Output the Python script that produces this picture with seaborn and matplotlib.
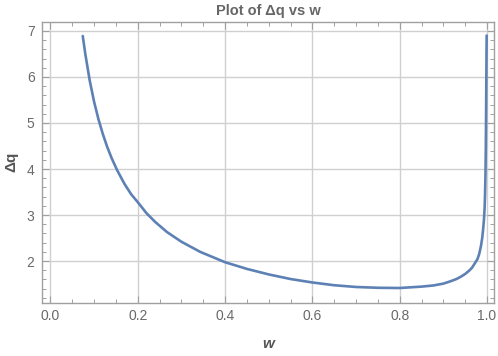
import numpy as np
import pandas as pd
import seaborn as sns
import matplotlib
matplotlib.use("Agg")
import matplotlib.pyplot as plt
from matplotlib.ticker import MultipleLocator

# Values
w_vals = [0.074, 0.080, 0.090, 0.100, 0.110, 0.120, 0.130, 0.140, 0.153, 0.170,
          0.185, 0.200, 0.220, 0.240, 0.267, 0.300, 0.343, 0.400, 0.450, 0.500,
          0.550, 0.600, 0.650, 0.700, 0.750, 0.800, 0.850, 0.877, 0.900, 0.916,
          0.930, 0.940, 0.950, 0.960, 0.966, 0.972, 0.978, 0.982, 0.986, 0.989,
          0.991, 0.993, 0.9945, 0.9955, 0.9965, 0.9973, 0.9979, 0.9984, 0.9988, 0.9992]
dq_vals = [6.89, 6.49, 5.92, 5.46, 5.08, 4.76, 4.48, 4.24, 3.97, 3.67,
           3.45, 3.28, 3.04, 2.85, 2.63, 2.42, 2.20, 1.975, 1.83, 1.71,
           1.61, 1.535, 1.475, 1.437, 1.42, 1.415, 1.445, 1.47, 1.51, 1.56,
           1.61, 1.66, 1.72, 1.80, 1.86, 1.95, 2.04, 2.15, 2.32, 2.50,
           2.68, 2.90, 3.15, 3.45, 3.90, 4.50, 5.20, 5.90, 6.45, 6.90]

title = "Plot of Δq vs w"
xlabel = "w"
ylabel = "Δq"

sns.set_theme(style="white")
plt.rcParams['font.family'] = ['Liberation Sans', 'DejaVu Sans']

df = pd.DataFrame({"w": w_vals, "dq": dq_vals})

fig = plt.figure(figsize=(4.98, 3.56), dpi=100)
ax = fig.add_axes([41.5/498, 1-302.5/356, (494.3-41.5)/498, (302.5-21.5)/356])

sns.lineplot(data=df, x="w", y="dq", ax=ax, color="#5E81B5", linewidth=1.9,
             sort=False, estimator=None)

ax.set_xlim(-0.0205, 1.0167)
ax.set_ylim(1.10, 7.205)

ax.xaxis.set_major_locator(MultipleLocator(0.2))
ax.xaxis.set_minor_locator(MultipleLocator(0.05))
ax.yaxis.set_major_locator(MultipleLocator(1))
ax.yaxis.set_minor_locator(MultipleLocator(0.2))
ax.set_xticks([0.0, 0.2, 0.4, 0.6, 0.8, 1.0])
ax.set_xticklabels(["0.0", "0.2", "0.4", "0.6", "0.8", "1.0"])
ax.set_yticks([2, 3, 4, 5, 6, 7])
ax.set_yticklabels(["2", "3", "4", "5", "6", "7"])

ax.grid(True, which="major", color="#d0d0d0", linewidth=1.0)
ax.set_axisbelow(True)

for side in ["left", "bottom", "top", "right"]:
    ax.spines[side].set_visible(True)
    ax.spines[side].set_color("#a0a0a0")
    ax.spines[side].set_linewidth(1.0)

ax.tick_params(which="major", direction="in", length=5, width=0.8, color="#a0a0a0",
               top=True, right=True, bottom=True, left=True,
               labelsize=10, labelcolor="#6a6a6a")
ax.tick_params(axis="x", which="major", pad=5)
ax.tick_params(axis="y", which="major", pad=5)
ax.tick_params(which="minor", direction="in", length=3, width=0.7, color="#a0a0a0",
               top=True, right=True, bottom=True, left=True)

ax.set_title(title, fontsize=10.5, fontweight="bold", color="#666666", pad=5)
ax.set_xlabel(xlabel, fontsize=11, fontweight="bold", style="italic", color="#555555", labelpad=10)
ax.set_ylabel(ylabel, fontsize=11, fontweight="bold", color="#555555", labelpad=6)

fig.savefig("out.png", dpi=100)
